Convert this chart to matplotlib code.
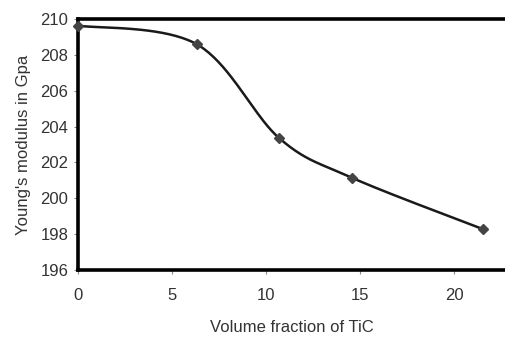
import numpy as np
import matplotlib.pyplot as plt

# data
tic_fraction = [0, 6.3, 10.7, 14.55, 21.55]
youngs_modulus = [209.63, 208.6, 203.35, 201.15, 198.27]

x_ticks = [0, 5, 10, 15, 20]
y_ticks = [196, 198, 200, 202, 204, 206, 208, 210]


# Excel-like smoothed line (cubic bezier through the points)
def smooth(xs, ys, n=40):
    xs = np.asarray(xs, float)
    ys = np.asarray(ys, float)
    px = np.concatenate([[xs[0]], xs, [xs[-1]]])
    py = np.concatenate([[ys[0]], ys, [ys[-1]]])
    out_x, out_y = [], []
    t = np.linspace(0, 1, n)
    for i in range(1, len(px) - 2):
        p0 = np.array([px[i], py[i]])
        p3 = np.array([px[i + 1], py[i + 1]])
        c1 = p0 + (np.array([px[i + 1], py[i + 1]]) - np.array([px[i - 1], py[i - 1]])) / 6
        c2 = p3 - (np.array([px[i + 2], py[i + 2]]) - np.array([px[i], py[i]])) / 6
        b = ((1 - t) ** 3)[:, None] * p0 + (3 * (1 - t) ** 2 * t)[:, None] * c1 \
            + (3 * (1 - t) * t ** 2)[:, None] * c2 + (t ** 3)[:, None] * p3
        out_x.extend(b[:, 0])
        out_y.extend(b[:, 1])
    return out_x, out_y


plt.rcParams['font.family'] = ['Liberation Sans', 'DejaVu Sans']

fig = plt.figure(figsize=(5.05, 3.38), dpi=100)
ax = fig.add_axes([0.1545, 0.2012, 0.8455, 0.7426])

sx, sy = smooth(tic_fraction, youngs_modulus)
ax.plot(sx, sy, color='#1a1a1a', linewidth=1.8, zorder=3)
ax.plot(tic_fraction, youngs_modulus, linestyle='none', marker='D',
        markersize=5, color='#444444', zorder=4, clip_on=False)

ax.set_xlim(0, 22.7)
ax.set_ylim(196, 210)
ax.set_xticks(x_ticks)
ax.set_yticks(y_ticks)

for side in ['left', 'top', 'bottom']:
    ax.spines[side].set_linewidth(2.6)
    ax.spines[side].set_color('black')
ax.spines['right'].set_visible(False)

ax.tick_params(axis='both', direction='out', length=3, width=0.8,
               color='#888888', labelsize=12, labelcolor='#333333')
ax.tick_params(axis='x', pad=10)
ax.tick_params(axis='y', pad=4)

ax.set_xlabel('Volume fraction of TiC', fontsize=12, color='#333333', labelpad=12)
ax.set_ylabel("Young's modulus in Gpa", fontsize=12, color='#333333', labelpad=7)

fig.savefig('out.png', dpi=100)
